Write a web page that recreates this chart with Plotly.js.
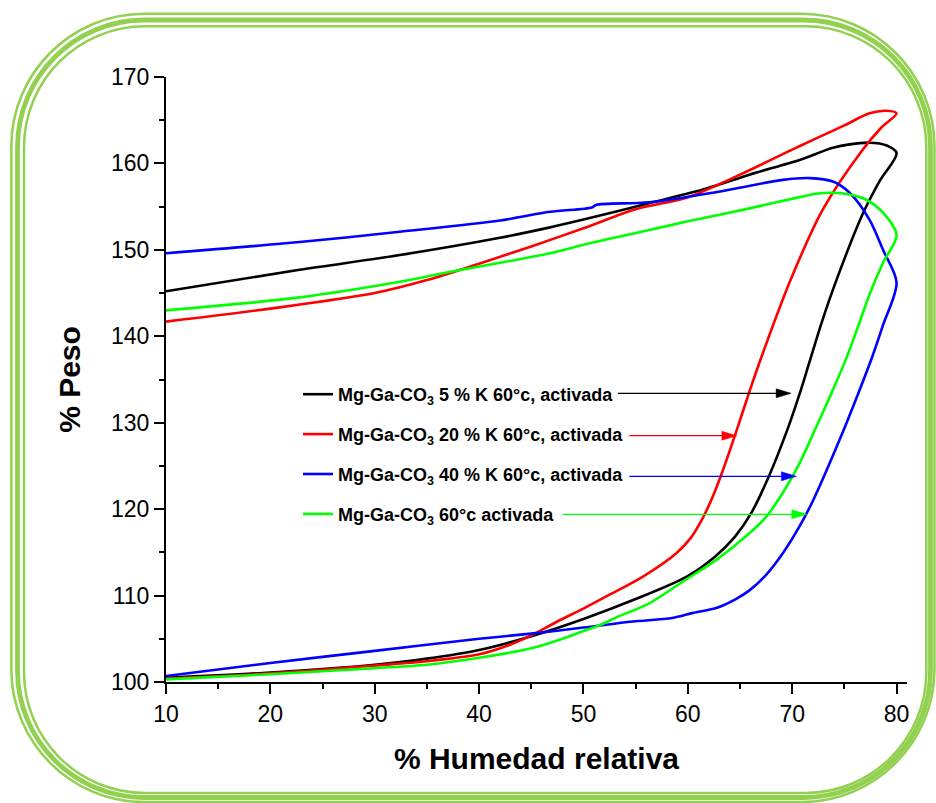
<!DOCTYPE html>
<html>
<head>
<meta charset="utf-8">
<script src="https://cdn.plot.ly/plotly-3.0.1.min.js"></script>
<style>html,body{margin:0;padding:0;background:#fff;}</style>
</head>
<body>
<div id="chart" style="width:936px;height:803px;"></div>
<script>
// ---------- data ----------
const seriesNames = [
  "Mg-Ga-CO<sub>3</sub> 5 % K 60°c, activada",
  "Mg-Ga-CO<sub>3</sub> 20 % K 60°c, activada",
  "Mg-Ga-CO<sub>3</sub> 40 % K 60°c, activada",
  "Mg-Ga-CO<sub>3</sub> 60°c activada"
];
const seriesColors = ["#000000", "#FF0000", "#0000FF", "#00FF00"];

// 5 % K (black): adsorption branch then desorption branch
const k5AdsX = [10, 20, 30, 35, 40, 45, 50, 55, 59.9, 62.6, 64.5, 66.1, 67.8, 69.6, 70.7, 71.6, 72.8, 74.3, 76.7, 78.4, 80];
const k5AdsY = [100.5, 101.1, 102.0, 102.7, 103.7, 105.3, 107.3, 109.6, 112.2, 114.5, 116.8, 119.6, 123.9, 129.4, 133.3, 136.8, 141.5, 146.7, 154.0, 158.0, 161.2];
const k5DesX = [80, 79.0, 77.4, 75.5, 73.9, 70.7, 65.9, 61.8, 56.3, 50, 46.8, 42, 32.4, 22.8, 10];
const k5DesY = [161.2, 162.1, 162.4, 162.2, 161.8, 160.4, 158.7, 157.1, 155.4, 153.5, 152.6, 151.4, 149.4, 147.7, 145.2];

// 20 % K (red)
const k20AdsX = [10, 20, 30, 35, 40, 42.5, 45, 47.5, 50, 52.5, 55.7, 58.9, 60.3, 61.4, 62.3, 63.3, 64.7, 65.9, 67.2, 69.8, 72.9, 76.7, 78.5, 80];
const k20AdsY = [100.4, 101.0, 101.9, 102.4, 103.2, 104.1, 105.4, 107.0, 108.5, 110.1, 112.2, 114.9, 116.7, 118.9, 121.2, 124.3, 129.2, 133.6, 138.1, 146.4, 154.6, 161.5, 164.1, 165.8];
const k20DesX = [80, 79.0, 77.4, 75, 72.3, 70, 65, 60, 55, 50, 45, 40, 35, 30, 20, 10];
const k20DesY = [165.8, 166.1, 165.8, 164.4, 162.9, 161.6, 158.7, 156.1, 154.7, 152.5, 150.4, 148.4, 146.5, 145.0, 143.2, 141.7];

// 40 % K (blue)
const k40AdsX = [10, 20, 30, 40, 45, 50, 54.7, 58.5, 60.5, 62.8, 64.6, 65.9, 67.5, 69.1, 70.7, 72.0, 74.5, 76.3, 77.6, 78.7, 80];
const k40AdsY = [100.7, 102.2, 103.6, 105.0, 105.6, 106.3, 107.0, 107.4, 108.0, 108.6, 109.6, 110.6, 112.4, 114.9, 118.0, 121.0, 127.9, 133.3, 137.4, 141.3, 146.2];
const k40DesX = [80, 78.7, 77.4, 75.5, 73.9, 71.7, 69.1, 62.8, 56.3, 51.2, 50.8, 46.8, 42, 32.4, 22.8, 10];
const k40DesY = [146.2, 150.0, 153.5, 156.6, 157.9, 158.3, 158.1, 156.7, 155.5, 155.2, 154.9, 154.4, 153.4, 152.1, 150.9, 149.6];

// sin K (green)
const k0AdsX = [10, 20, 30, 35, 40, 45, 47.5, 50, 51.6, 53.2, 56.3, 59.5, 62.7, 65.9, 67.5, 69.1, 70.7, 72.3, 73.9, 75.2, 76.3, 77.4, 78.7, 80];
const k0AdsY = [100.3, 100.9, 101.6, 102.0, 102.8, 103.9, 104.8, 105.9, 106.6, 107.5, 109.1, 111.6, 114.1, 117.2, 119.1, 121.9, 125.3, 129.5, 133.8, 137.5, 141.1, 144.8, 148.5, 151.7];
const k0DesX = [80, 78.7, 77.1, 75.5, 73.9, 72.3, 70.7, 65.9, 60, 56.3, 50, 46.8, 42, 37, 32.4, 22.8, 10];
const k0DesY = [151.7, 154.3, 155.8, 156.4, 156.6, 156.5, 156.1, 154.8, 153.3, 152.3, 150.6, 149.6, 148.5, 147.4, 146.3, 144.5, 143.0];

// pointer arrows from the legend to each loop (head / tail)
const arrowHeadX = [69.9, 64.7, 70.4, 71.4];
const arrowHeadY = [133.4, 128.5, 123.8, 119.4];
const arrowTailX = [53.3, 54.4, 54.4, 48.0];

// tick labels
const xTicks = [10, 20, 30, 40, 50, 60, 70, 80];
const yTicks = [100, 110, 120, 130, 140, 150, 160, 170];

// ---------- build ----------
const W = 936, H = 803;
const M = {l: 166, r: 29, t: 77, b: 121};
const pw = W - M.l - M.r, ph = H - M.t - M.b;
const xRange = [10, 81], yRange = [100, 170];
const xPerPx = (xRange[1] - xRange[0]) / pw, yPerPx = (yRange[1] - yRange[0]) / ph;

const loops = [
  [k5AdsX, k5AdsY, k5DesX, k5DesY],
  [k20AdsX, k20AdsY, k20DesX, k20DesY],
  [k40AdsX, k40AdsY, k40DesX, k40DesY],
  [k0AdsX, k0AdsY, k0DesX, k0DesY]
];
const traces = loops.map((L, i) => ({
  type: 'scatter', mode: 'lines',
  x: L[0].concat(L[2].slice(1)),
  y: L[1].concat(L[3].slice(1)),
  name: seriesNames[i],
  legendgroup: 'g' + i,
  line: {color: seriesColors[i], width: 2.6, shape: 'spline', smoothing: 0.85},
  hoverinfo: 'skip'
}));

function fx(p) { return ((p - M.l) / pw).toFixed(5); }
function fy(p) { return ((H - M.b - p) / ph).toFixed(5); }
function roundRect(L, T, R, B, r) {
  const k = 0.5523 * r;
  const P = (x, y) => fx(x) + ',' + fy(y);
  return 'M' + P(L + r, T) + ' L' + P(R - r, T) +
    ' C' + P(R - r + k, T) + ' ' + P(R, T + r - k) + ' ' + P(R, T + r) +
    ' L' + P(R, B - r) +
    ' C' + P(R, B - r + k) + ' ' + P(R - r + k, B) + ' ' + P(R - r, B) +
    ' L' + P(L + r, B) +
    ' C' + P(L + r - k, B) + ' ' + P(L, B - r + k) + ' ' + P(L, B - r) +
    ' L' + P(L, T + r) +
    ' C' + P(L, T + r - k) + ' ' + P(L + r - k, T) + ' ' + P(L + r, T) + ' Z';
}
const frameGreen = '#92D050';
const shapes = [
  {type: 'path', xref: 'paper', yref: 'paper', path: roundRect(11.3, 13.8, 934.5, 802, 133), line: {color: frameGreen, width: 2.5}},
  {type: 'path', xref: 'paper', yref: 'paper', path: roundRect(17.5, 20, 930.5, 797.5, 127), line: {color: frameGreen, width: 4.8}},
  {type: 'path', xref: 'paper', yref: 'paper', path: roundRect(24, 26.3, 926.3, 793, 121), line: {color: frameGreen, width: 2.5}}
];

// arrows: shaft (line shape) + filled triangular head (path shape), in data units
const headLen = 15 * xPerPx, headHalf = 4.5 * yPerPx;
arrowHeadX.forEach((hx, i) => {
  const hy = arrowHeadY[i];
  shapes.push({type: 'line', xref: 'x', yref: 'y', x0: arrowTailX[i], y0: hy, x1: hx - headLen * 0.8, y1: hy,
    line: {color: seriesColors[i], width: 1.3}});
  shapes.push({type: 'path', xref: 'x', yref: 'y',
    path: 'M' + hx + ',' + hy + ' L' + (hx - headLen) + ',' + (hy + headHalf) + ' L' + (hx - headLen) + ',' + (hy - headHalf) + ' Z',
    fillcolor: seriesColors[i], line: {color: seriesColors[i], width: 0.5}});
});

const font = 'Arial, "Liberation Sans", sans-serif';
const axisCommon = {
  showline: true, linecolor: '#000', linewidth: 2,
  ticks: 'outside', ticklen: 10, tickwidth: 2, tickcolor: '#000',
  showgrid: false, zeroline: false,
  tickfont: {family: font, size: 23, color: '#000'},
  minor: {ticks: 'outside', ticklen: 5, tickwidth: 2, tickcolor: '#000', showgrid: false}
};

const layout = {
  width: W, height: H,
  margin: M,
  paper_bgcolor: '#fff', plot_bgcolor: '#fff',
  font: {family: font, color: '#000'},
  showlegend: true,
  legend: {
    x: (298 - M.l) / pw, xanchor: 'left',
    y: (H - M.b - 376) / ph, yanchor: 'top',
    bgcolor: 'rgba(0,0,0,0)', borderwidth: 0,
    font: {family: font, size: 18, color: '#000', weight: 'bold'},
    tracegroupgap: 13.5
  },
  xaxis: Object.assign({}, axisCommon, {
    range: xRange, tickvals: xTicks, ticktext: xTicks.map(String),
    minor: Object.assign({}, axisCommon.minor, {dtick: 5, tick0: 5}),
    title: {text: '% Humedad relativa', font: {family: font, size: 30, color: '#000', weight: 'bold'}, standoff: 22}
  }),
  yaxis: Object.assign({}, axisCommon, {
    range: yRange, tickvals: yTicks, ticktext: yTicks.map(String),
    minor: Object.assign({}, axisCommon.minor, {dtick: 5, tick0: 5}),
    title: {text: '% Peso\u00a0\u00a0\u00a0\u00a0\u00a0', font: {family: font, size: 30, color: '#000', weight: 'bold'}, standoff: 22}
  }),
  shapes: shapes
};

Plotly.newPlot('chart', traces, layout, {staticPlot: true, displayModeBar: false});
</script>
</body>
</html>
